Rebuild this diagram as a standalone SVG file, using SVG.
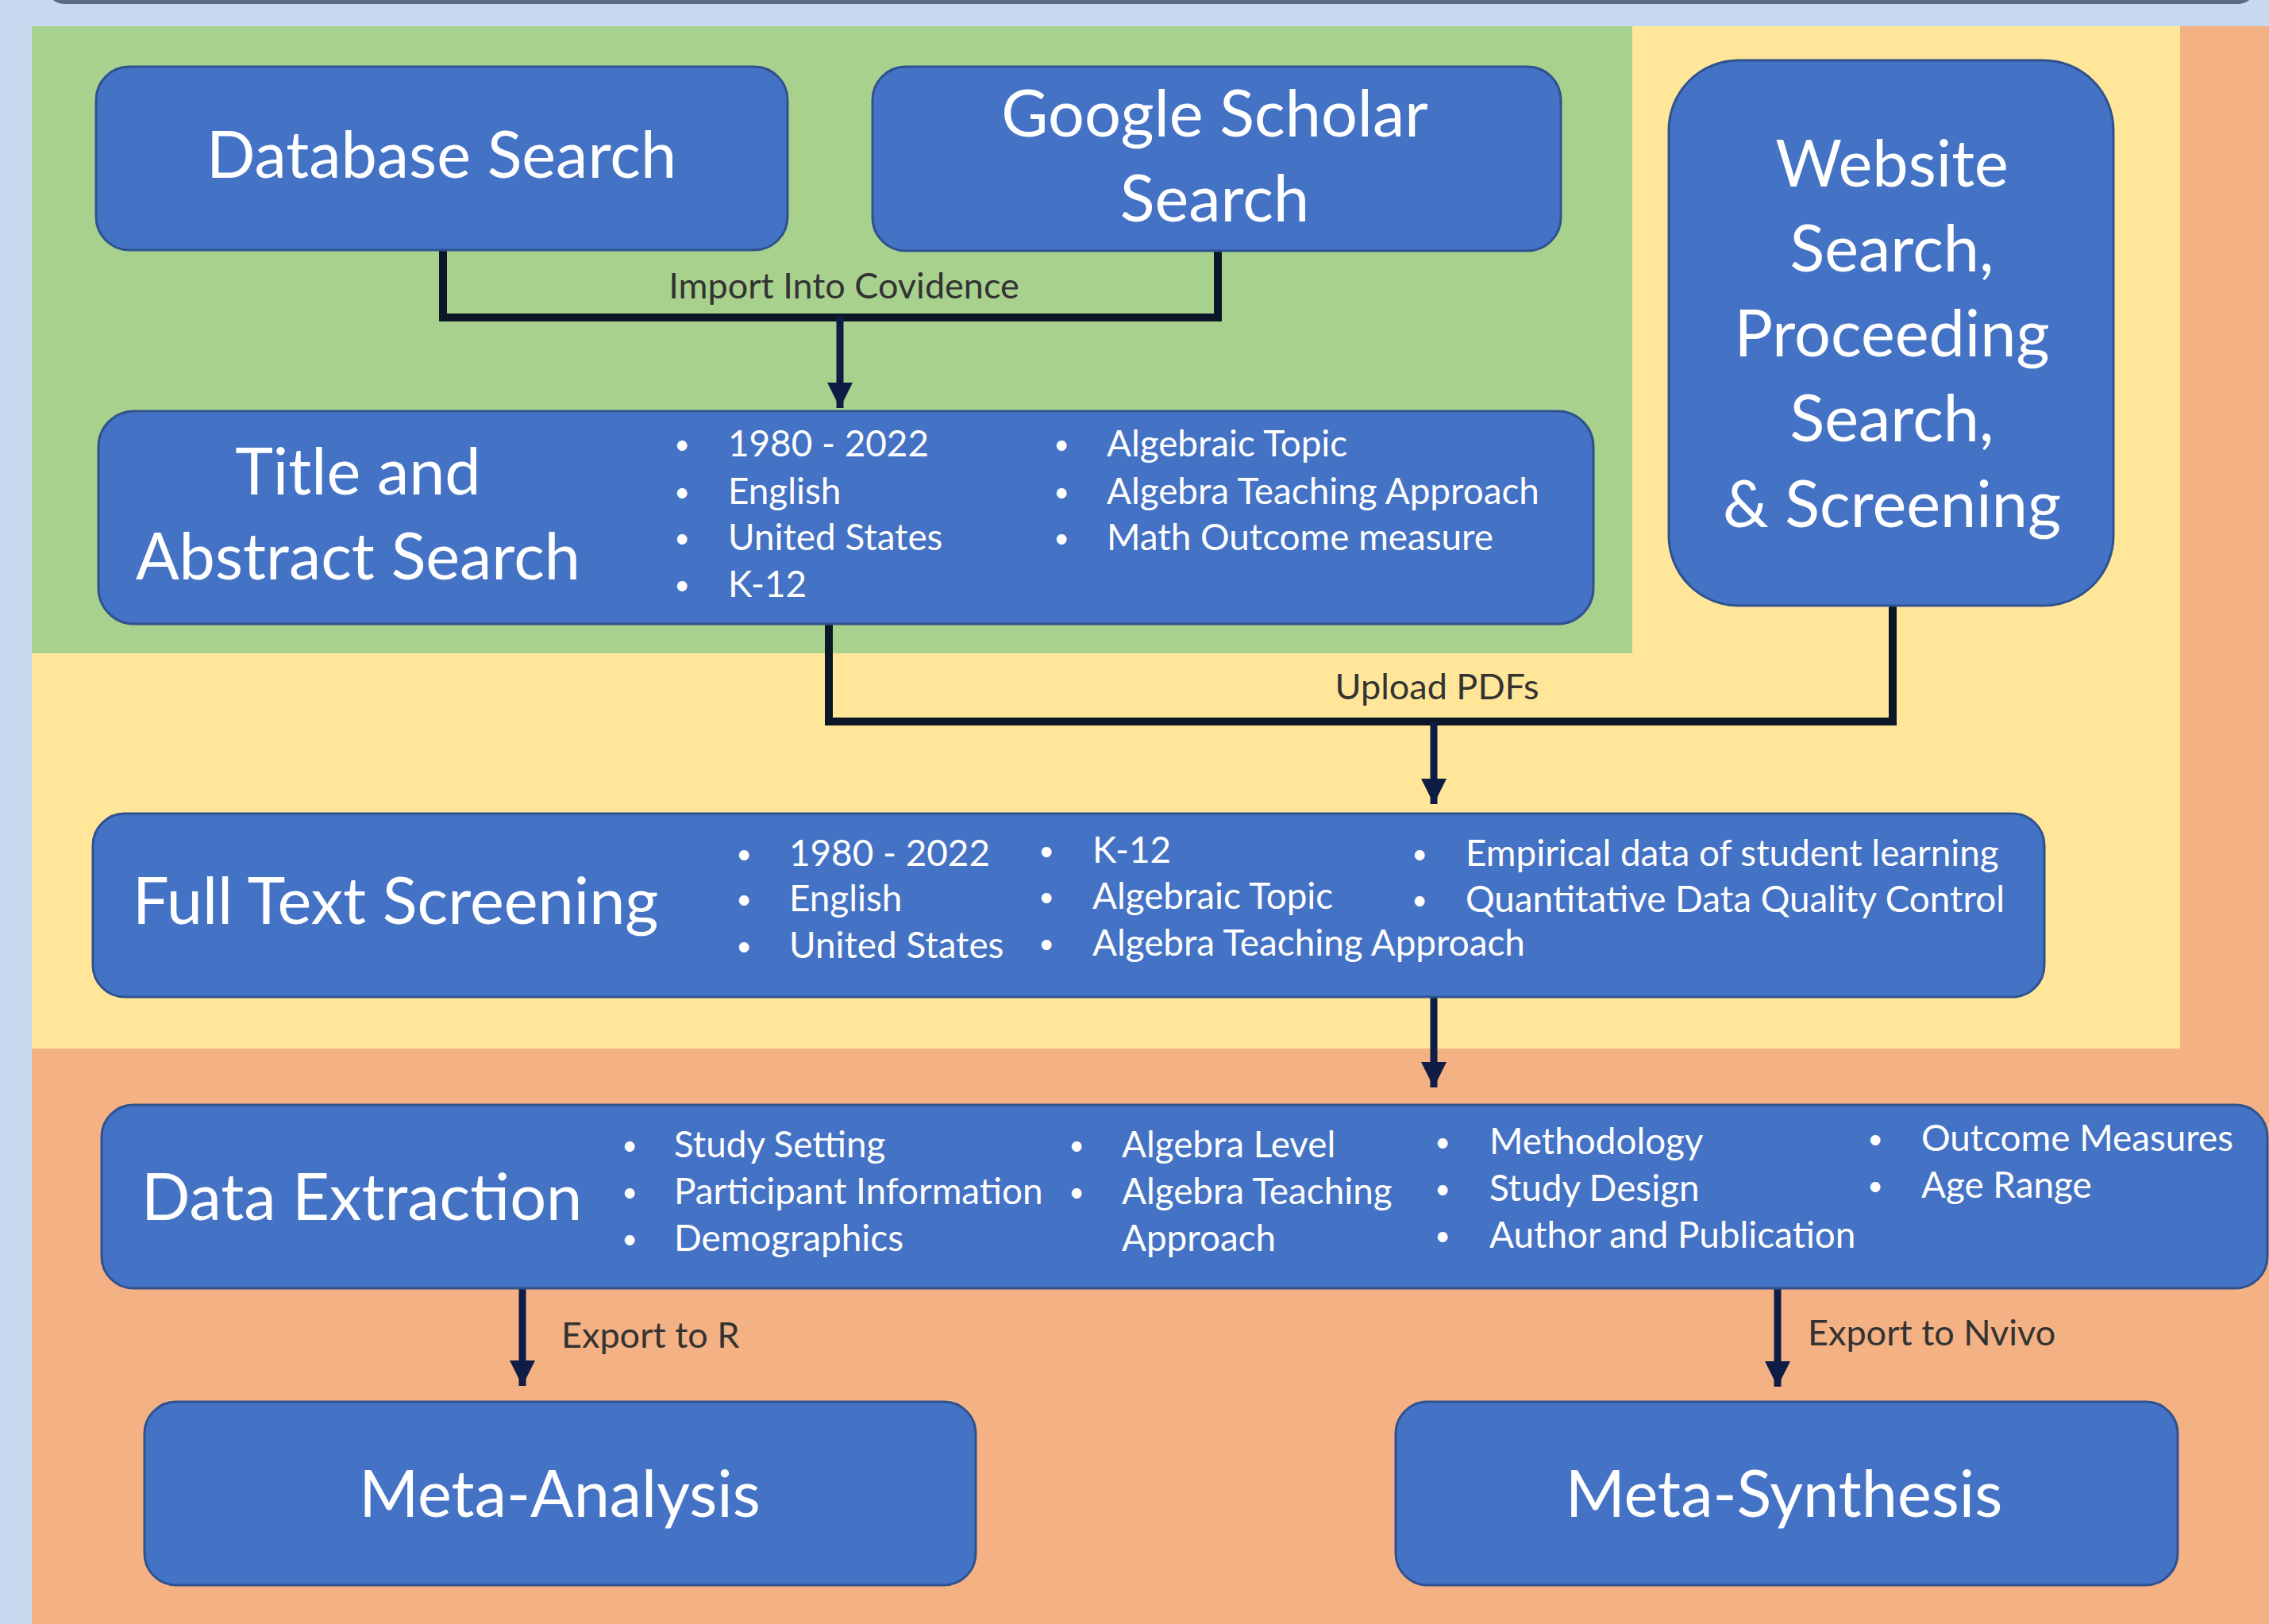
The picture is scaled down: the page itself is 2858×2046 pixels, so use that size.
<svg xmlns="http://www.w3.org/2000/svg" width="2858" height="2046" viewBox="0 0 2858 2046">
<style>
.node{fill:#4472C4;stroke:#2F528F;stroke-width:3}
.t{font-family:Lato,"Liberation Sans",sans-serif;fill:#ffffff}
.title{font-size:81px;text-anchor:middle}
.titleL{font-size:81px}
.b{font-size:45.8px}
.dot{font-size:34px;text-anchor:middle}
.lbl{font-family:Lato,"Liberation Sans",sans-serif;font-size:45px;fill:#333333}
.elbow{fill:none;stroke:#0B1626;stroke-width:10}
.arr{fill:none;stroke:#0E1C46;stroke-width:9;marker-end:url(#ah)}
</style>
<defs>
<marker id="ah" viewBox="0 0 32 32" refX="32" refY="16" markerWidth="32" markerHeight="32" markerUnits="userSpaceOnUse" orient="auto">
<path d="M0,0 L32,16 L0,32 z" fill="#0E1C46"/>
</marker>
</defs>
<!-- backgrounds -->
<rect x="0" y="0" width="2858" height="2046" fill="#C6D9EF"/>
<rect x="60" y="-30" width="2780" height="35" rx="22" fill="#5B6C82"/>
<rect x="40" y="33" width="2818" height="2013" fill="#F4B183"/>
<rect x="40" y="33" width="2706" height="1288" fill="#FFE699"/>
<rect x="40" y="33" width="2016" height="790" fill="#A9D18E"/>

<g id="connectors">
<path class="elbow" d="M558,316 V400 H1534 V316"/>
<path class="arr" d="M1058,400 V514"/>
<path class="elbow" d="M1044,786 V909 H2384 V763"/>
<path class="arr" d="M1806,909 V1013"/>
<path class="arr" d="M1806,1256 V1370"/>
<path class="arr" d="M658,1623 V1746"/>
<path class="arr" d="M2239,1623 V1747"/>
<text class="lbl" x="1063" y="376" text-anchor="middle">Import Into Covidence</text>
<text class="lbl" x="1810" y="881" text-anchor="middle">Upload PDFs</text>
<text class="lbl" x="707" y="1698">Export to R</text>
<text class="lbl" x="2277" y="1695">Export to Nvivo</text>
</g>

<g id="database-search">
<rect class="node" x="121" y="84" width="871" height="231" rx="42"/>
<text class="t title" x="556" y="224">Database Search</text>
</g>

<g id="google-scholar-search">
<rect class="node" x="1099" y="84" width="867" height="232" rx="42"/>
<text class="t title" x="1530" y="172">Google Scholar</text>
<text class="t title" x="1530" y="279">Search</text>
</g>

<g id="website-search">
<rect class="node" x="2102" y="76" width="560" height="687" rx="88"/>
<text class="t title" x="2383" y="235">Website</text>
<text class="t title" x="2383" y="342">Search,</text>
<text class="t title" x="2383" y="449">Proceeding</text>
<text class="t title" x="2383" y="556">Search,</text>
<text class="t title" x="2383" y="664">&amp; Screening</text>
</g>

<g id="title-abstract-search">
<rect class="node" x="124" y="518" width="1883" height="268" rx="45"/>
<text class="t title" x="451" y="623">Title and</text>
<text class="t title" x="451" y="730">Abstract Search</text>
<text class="t dot" x="859" y="572">•</text><text class="t b" x="917" y="575">1980 - 2022</text>
<text class="t dot" x="859" y="632">•</text><text class="t b" x="917" y="635">English</text>
<text class="t dot" x="859" y="690">•</text><text class="t b" x="917" y="693">United States</text>
<text class="t dot" x="859" y="749">•</text><text class="t b" x="917" y="752">K-12</text>
<text class="t dot" x="1337" y="572">•</text><text class="t b" x="1394" y="575">Algebraic Topic</text>
<text class="t dot" x="1337" y="632">•</text><text class="t b" x="1394" y="635">Algebra Teaching Approach</text>
<text class="t dot" x="1337" y="690">•</text><text class="t b" x="1394" y="693">Math Outcome measure</text>
</g>

<g id="full-text-screening">
<rect class="node" x="117" y="1025" width="2458" height="231" rx="40"/>
<text class="t titleL" x="167" y="1164">Full Text Screening</text>
<text class="t dot" x="937" y="1088">•</text><text class="t b" x="994" y="1091">1980 - 2022</text>
<text class="t dot" x="937" y="1145">•</text><text class="t b" x="994" y="1148">English</text>
<text class="t dot" x="937" y="1204">•</text><text class="t b" x="994" y="1207">United States</text>
<text class="t dot" x="1318" y="1084">•</text><text class="t b" x="1376" y="1087">K-12</text>
<text class="t dot" x="1318" y="1142">•</text><text class="t b" x="1376" y="1145">Algebraic Topic</text>
<text class="t dot" x="1318" y="1201">•</text><text class="t b" x="1376" y="1204">Algebra Teaching Approach</text>
<text class="t dot" x="1788" y="1088">•</text><text class="t b" x="1846" y="1091">Empirical data of student learning</text>
<text class="t dot" x="1788" y="1146">•</text><text class="t b" x="1846" y="1149">Quantitative Data Quality Control</text>
</g>

<g id="data-extraction">
<rect class="node" x="128" y="1392" width="2728" height="231" rx="40"/>
<text class="t titleL" x="178" y="1537">Data Extraction</text>
<text class="t dot" x="793" y="1455">•</text><text class="t b" x="849" y="1458">Study Setting</text>
<text class="t dot" x="793" y="1514">•</text><text class="t b" x="849" y="1517">Participant Information</text>
<text class="t dot" x="793" y="1573">•</text><text class="t b" x="849" y="1576">Demographics</text>
<text class="t dot" x="1356" y="1455">•</text><text class="t b" x="1413" y="1458">Algebra Level</text>
<text class="t dot" x="1356" y="1514">•</text><text class="t b" x="1413" y="1517">Algebra Teaching</text>
<text class="t b" x="1413" y="1576">Approach</text>
<text class="t dot" x="1817" y="1451">•</text><text class="t b" x="1876" y="1454">Methodology</text>
<text class="t dot" x="1817" y="1510">•</text><text class="t b" x="1876" y="1513">Study Design</text>
<text class="t dot" x="1817" y="1569">•</text><text class="t b" x="1876" y="1572">Author and Publication</text>
<text class="t dot" x="2362" y="1447">•</text><text class="t b" x="2420" y="1450">Outcome Measures</text>
<text class="t dot" x="2362" y="1506">•</text><text class="t b" x="2420" y="1509">Age  Range</text>
</g>

<g id="meta-analysis">
<rect class="node" x="182" y="1766" width="1047" height="231" rx="40"/>
<text class="t title" x="705" y="1911">Meta-Analysis</text>
</g>

<g id="meta-synthesis">
<rect class="node" x="1758" y="1766" width="985" height="231" rx="40"/>
<text class="t title" x="2247" y="1911">Meta-Synthesis</text>
</g>
</svg>
